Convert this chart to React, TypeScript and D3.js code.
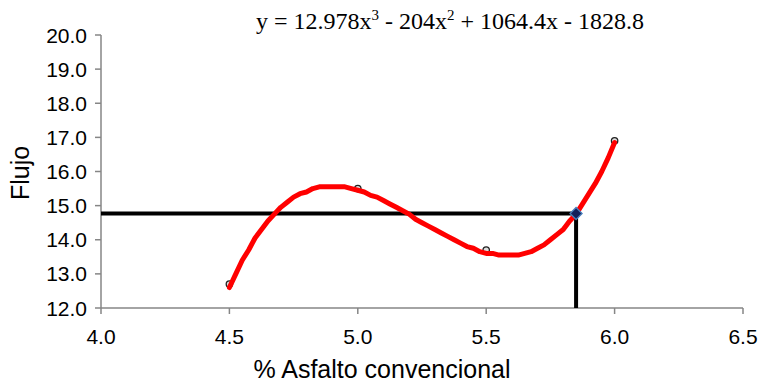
import React from "react";
import * as d3 from "d3";

const xTicks = [4.0, 4.5, 5.0, 5.5, 6.0, 6.5];
const yTicks = [12, 13, 14, 15, 16, 17, 18, 19, 20];
const dataX = [4.5, 5.0, 5.5, 6.0];
const dataY = [12.7, 15.5, 13.7, 16.9];
// trendline coefficients as printed on the chart (x^3, x^2, x, const)
const coeffs = [12.978, -204, 1064.4, -1828.8];
const targetX = [5.85];
const targetY = [14.77];

const W = 761, H = 385;

export default function App() {
  const x = d3.scaleLinear().domain([4.0, 6.5]).range([101, 743]);
  const y = d3.scaleLinear().domain([12, 20]).range([308, 35]);
  const poly = (v: number) => ((coeffs[0] * v + coeffs[1]) * v + coeffs[2]) * v + coeffs[3];
  const x0 = dataX[0], x1 = dataX[dataX.length - 1];
  const n = Math.round((x1 - x0) / 0.025);
  const xs = d3.range(0, n + 1).map((i) => x0 + (i / n) * (x1 - x0));
  const line = d3
    .line<number>()
    .x((v) => x(v))
    .y((v) => y(Math.round(poly(v) * 20) / 20))
    .curve(d3.curveLinear);
  const tx = x(targetX[0]), ty = y(targetY[0]);
  const axisColor = "#868686";
  const font = "Liberation Sans, Arial, sans-serif";
  return (
    <svg width={W} height={H} style={{ position: "absolute", left: 0, top: 0 }}>
      <rect width={W} height={H} fill="#fff" />
      {/* axes */}
      <line x1={x(4)} x2={x(6.5)} y1={y(12)} y2={y(12)} stroke={axisColor} strokeWidth={1.5} />
      <line x1={x(4)} x2={x(4)} y1={y(12)} y2={y(20)} stroke={axisColor} strokeWidth={1.5} />
      {yTicks.map((t) => (
        <g key={"y" + t}>
          <line x1={x(4) - 6} x2={x(4)} y1={y(t)} y2={y(t)} stroke={axisColor} strokeWidth={1.5} />
          <text x={x(4) - 14} y={y(t)} dy="0.36em" textAnchor="end" fontFamily={font} fontSize={21} fill="#000">
            {t.toFixed(1)}
          </text>
        </g>
      ))}
      {xTicks.map((t) => (
        <g key={"x" + t}>
          <line x1={x(t)} x2={x(t)} y1={y(12)} y2={y(12) + 6} stroke={axisColor} strokeWidth={1.5} />
          <text x={x(t)} y={y(12) + 36} textAnchor="middle" fontFamily={font} fontSize={21} fill="#000">
            {t.toFixed(1)}
          </text>
        </g>
      ))}
      {/* reference lines */}
      <line x1={x(4)} x2={tx} y1={ty} y2={ty} stroke="#000" strokeWidth={4} />
      <line x1={tx} x2={tx} y1={ty} y2={y(12)} stroke="#000" strokeWidth={4} />
      {/* data markers */}
      {dataX.map((v, i) => (
        <circle key={"p" + i} cx={x(v)} cy={y(dataY[i])} r={3.2} fill="#ddd" stroke="#222" strokeWidth={1.3} />
      ))}
      {/* trendline */}
      <path d={line(xs) || ""} fill="none" stroke="#ff0000" strokeWidth={5} strokeLinecap="round" strokeLinejoin="round" />
      {/* target marker */}
      <path
        d={`M${tx},${ty - 6} L${tx + 6},${ty} L${tx},${ty + 6} L${tx - 6},${ty} Z`}
        fill="#14205a"
        stroke="#4a7ebb"
        strokeWidth={1.3}
      />
      {/* equation */}
      <text x={450} y={29} textAnchor="middle" fontFamily="Liberation Serif, Times New Roman, serif" fontSize={24} fill="#000">
        y = 12.978x<tspan dy={-9} fontSize={15}>3</tspan>
        <tspan dy={9}> - 204x</tspan>
        <tspan dy={-9} fontSize={15}>2</tspan>
        <tspan dy={9}> + 1064.4x - 1828.8</tspan>
      </text>
      {/* axis titles */}
      <text
        transform={`translate(29,173) rotate(-90)`}
        textAnchor="middle"
        fontFamily={font}
        fontSize={25}
        fill="#000"
      >
        Flujo
      </text>
      <text x={382} y={378} textAnchor="middle" fontFamily={font} fontSize={25} fill="#000">
        % Asfalto convencional
      </text>
    </svg>
  );
}
